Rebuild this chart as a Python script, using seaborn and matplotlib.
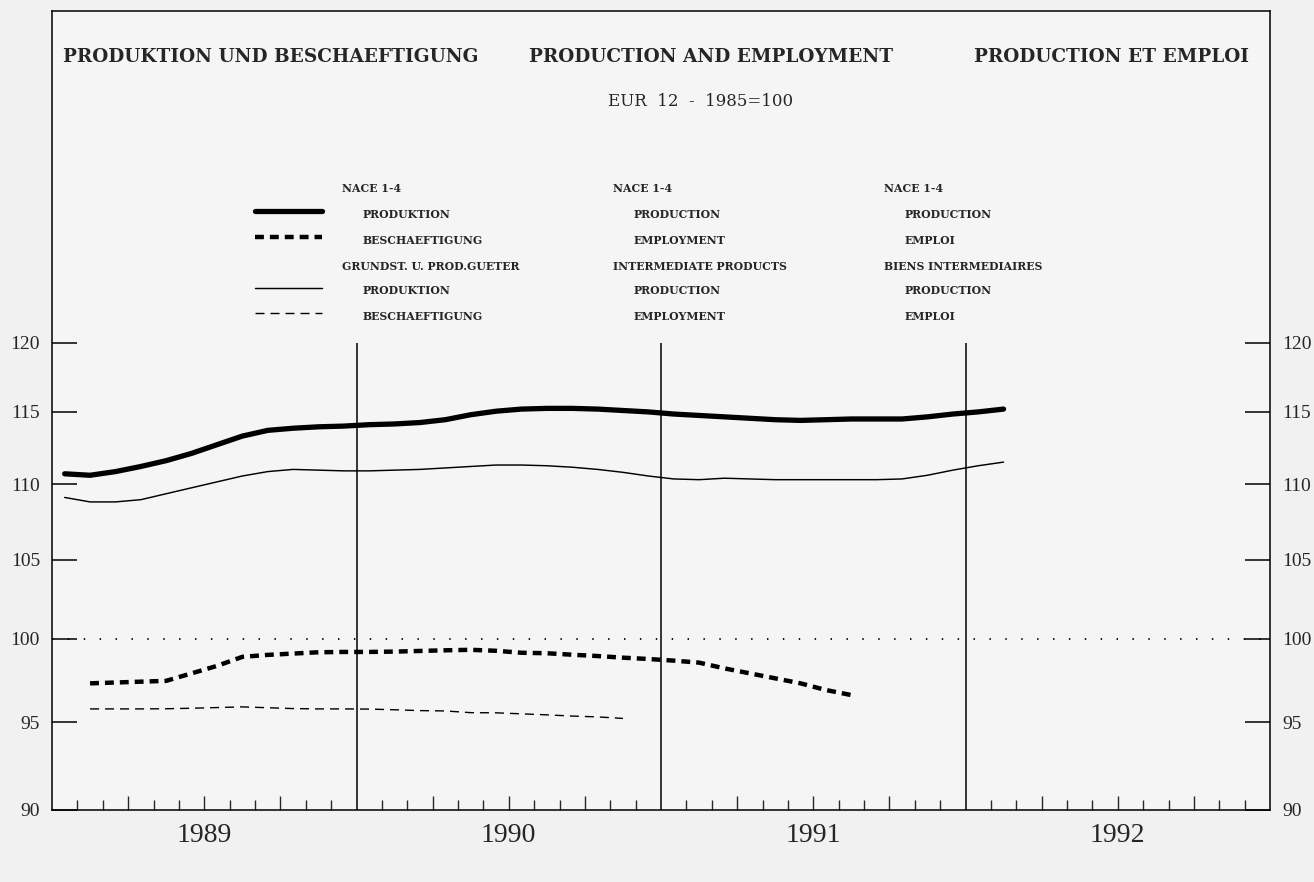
import numpy as np
import pandas as pd
import matplotlib
matplotlib.use("Agg")
import matplotlib.pyplot as plt
from matplotlib.lines import Line2D
from matplotlib.ticker import FixedLocator, FixedFormatter, NullLocator
import seaborn as sns

# ---------------------------------------------------------------------------
# EUR 12 indices, 1985 = 100.  Month 0 = January 1989; values are plotted
# at the middle of each month.
# ---------------------------------------------------------------------------
years = [1989, 1990, 1991, 1992]

# NACE 1-4, production (Jan 1989 - Feb 1992)
prod_total_start = 0
prod_total = [110.7, 110.6, 110.85, 111.2, 111.6, 112.1, 112.7, 113.3, 113.7, 113.85,
              113.95, 114.0, 114.1, 114.15, 114.25, 114.45, 114.8, 115.05, 115.2, 115.25,
              115.25, 115.2, 115.1, 115.0, 114.85, 114.75, 114.65, 114.55, 114.45, 114.4,
              114.45, 114.5, 114.5, 114.5, 114.65, 114.85, 115.0, 115.2]

# Intermediate products, production (Jan 1989 - Feb 1992)
prod_inter_start = 0
prod_inter = [109.1, 108.8, 108.8, 108.95, 109.35, 109.75, 110.15, 110.55, 110.85, 111.0,
              110.95, 110.9, 110.9, 110.95, 111.0, 111.1, 111.2, 111.3, 111.3, 111.25,
              111.15, 111.0, 110.8, 110.55, 110.35, 110.3, 110.4, 110.35, 110.3, 110.3,
              110.3, 110.3, 110.3, 110.35, 110.6, 110.95, 111.25, 111.5]

# NACE 1-4, employment (Feb 1989 - Aug 1991)
empl_total_start = 1
empl_total = [97.3, 97.35, 97.4, 97.45, 97.9, 98.35, 98.9, 99.02, 99.1, 99.18,
              99.2, 99.2, 99.22, 99.26, 99.3, 99.33, 99.27, 99.15, 99.12, 99.03,
              98.95, 98.85, 98.77, 98.67, 98.55, 98.2, 97.9, 97.6, 97.3, 96.9, 96.6]

# Intermediate products, employment (Feb 1989 - Nov 1990)
empl_inter_start = 1
empl_inter = [95.78, 95.78, 95.78, 95.79, 95.82, 95.86, 95.9, 95.85, 95.8, 95.78,
              95.78, 95.77, 95.73, 95.68, 95.66, 95.56, 95.55, 95.49, 95.43, 95.36,
              95.31, 95.22]

y_ticks = [90, 95, 100, 105, 110, 115, 120]

titles = ["PRODUKTION UND BESCHAEFTIGUNG", "PRODUCTION AND EMPLOYMENT",
          "PRODUCTION ET EMPLOI"]
subtitle = "EUR  12  -  1985=100"

legend_de = ["NACE 1-4", "PRODUKTION", "BESCHAEFTIGUNG",
             "GRUNDST. U. PROD.GUETER", "PRODUKTION", "BESCHAEFTIGUNG"]
legend_en = ["NACE 1-4", "PRODUCTION", "EMPLOYMENT",
             "INTERMEDIATE PRODUCTS", "PRODUCTION", "EMPLOYMENT"]
legend_fr = ["NACE 1-4", "PRODUCTION", "EMPLOI",
             "BIENS INTERMEDIAIRES", "PRODUCTION", "EMPLOI"]


def frame(values, start, name):
    month = start + np.arange(len(values)) + 0.5
    return pd.DataFrame({"month": month, "index": values, "series": name})


df = pd.concat([
    frame(prod_total, prod_total_start, "prod_total"),
    frame(prod_inter, prod_inter_start, "prod_inter"),
    frame(empl_total, empl_total_start, "empl_total"),
    frame(empl_inter, empl_inter_start, "empl_inter"),
], ignore_index=True)

# Line styles for each series
styles = {
    "prod_total": dict(lw=3.8, ls="-", solid_capstyle="round", solid_joinstyle="round"),
    "empl_total": dict(lw=3.2, ls=(0, (2.0, 1.35)), dash_capstyle="butt"),
    "prod_inter": dict(lw=1.05, ls="-"),
    "empl_inter": dict(lw=1.0, ls=(0, (6.5, 4.3)), dash_capstyle="butt"),
}

sns.set_style("white")
plt.rcParams["font.family"] = ["DejaVu Serif"]

BG = "#f1f1f1"
W, H = 1314, 882
fig = plt.figure(figsize=(W / 100, H / 100), dpi=100, facecolor=BG)
ax = fig.add_axes([52 / W, 1 - 810 / H, (1270 - 52) / W, (810 - 11) / H])
ax.set_facecolor("#f5f5f5")

for name, st in styles.items():
    sub = df[df["series"] == name]
    sns.lineplot(data=sub, x="month", y="index", ax=ax, color="black",
                 estimator=None, sort=False, legend=False,
                 linewidth=st["lw"], linestyle=st["ls"],
                 **{k: v for k, v in st.items() if k not in ("lw", "ls")})

# log-scaled index axis
ax.set_yscale("log")
ax.set_ylim(90, 147.2)
ax.set_xlim(0, 12 * len(years))
ax.yaxis.set_major_locator(FixedLocator(y_ticks))
ax.yaxis.set_major_formatter(FixedFormatter([str(v) for v in y_ticks]))
ax.yaxis.set_minor_locator(NullLocator())

# months: quarter ticks longer, year labels at mid-year
quarters = [12 * i + q for i in range(len(years)) for q in (3, 6, 9)]
months = [12 * i + m for i in range(len(years)) for m in range(1, 12) if m % 3]
ax.xaxis.set_major_locator(FixedLocator(quarters))
ax.xaxis.set_major_formatter(FixedFormatter(
    [str(years[q // 12]) if q % 12 == 6 else "" for q in quarters]))
ax.xaxis.set_minor_locator(FixedLocator(months))

ax.set_xlabel("")
ax.set_ylabel("")

for s in ax.spines.values():
    s.set_visible(True)
    s.set_color("black")
    s.set_linewidth(1.1)

ax.tick_params(axis="y", which="major", direction="in", length=18, width=1.1,
               left=True, right=True, labelleft=True, labelright=True,
               pad=8.6, labelsize=14, color="black")
ax.tick_params(axis="x", which="major", direction="in", length=10, width=1.0,
               bottom=True, top=False, pad=9, labelsize=20)
ax.tick_params(axis="x", which="minor", direction="in", length=7, width=1.0,
               bottom=True, top=False)
for lab in ax.get_yticklabels() + ax.get_xticklabels():
    lab.set_fontfamily("Liberation Serif")

# year separators and the 100 reference line
ax.vlines([12 * i for i in range(1, len(years))], 90, 120, color="black", lw=1.1)
ax.axhline(100, color="black", lw=1.3, ls=(0, (0.8, 8.0)))

# headings
for txt, cx in zip(titles, [271, 711, 1112]):
    fig.text(cx / W, 1 - 57 / H, txt, ha="center", va="center",
             fontsize=13.3, fontweight="bold", family="DejaVu Serif")
fig.text(701 / W, 1 - 102 / H, subtitle, ha="center", va="center",
         fontsize=12, family="DejaVu Serif")

# legend: line samples and three language columns
rows_y = [188, 214, 240, 266, 291, 316]
sample_rows = {1: "prod_total", 2: "empl_total", 4: "prod_inter", 5: "empl_inter"}
for r, name in sample_rows.items():
    st = styles[name]
    y = 1 - (rows_y[r] - 3) / H
    fig.add_artist(Line2D([255 / W, 322 / W], [y, y], color="black",
                          lw=st["lw"], ls=st["ls"],
                          **{k: v for k, v in st.items() if k not in ("lw", "ls")}))

for col, x0 in zip([legend_de, legend_en, legend_fr], [342, 613, 884]):
    for i, txt in enumerate(col):
        indent = 0 if i in (0, 3) else 21
        fig.text((x0 + indent) / W, 1 - rows_y[i] / H, txt, ha="left", va="center",
                 fontsize=7.8, fontweight="bold", family="DejaVu Serif")

fig.savefig("out.png", dpi=100, facecolor=BG)
